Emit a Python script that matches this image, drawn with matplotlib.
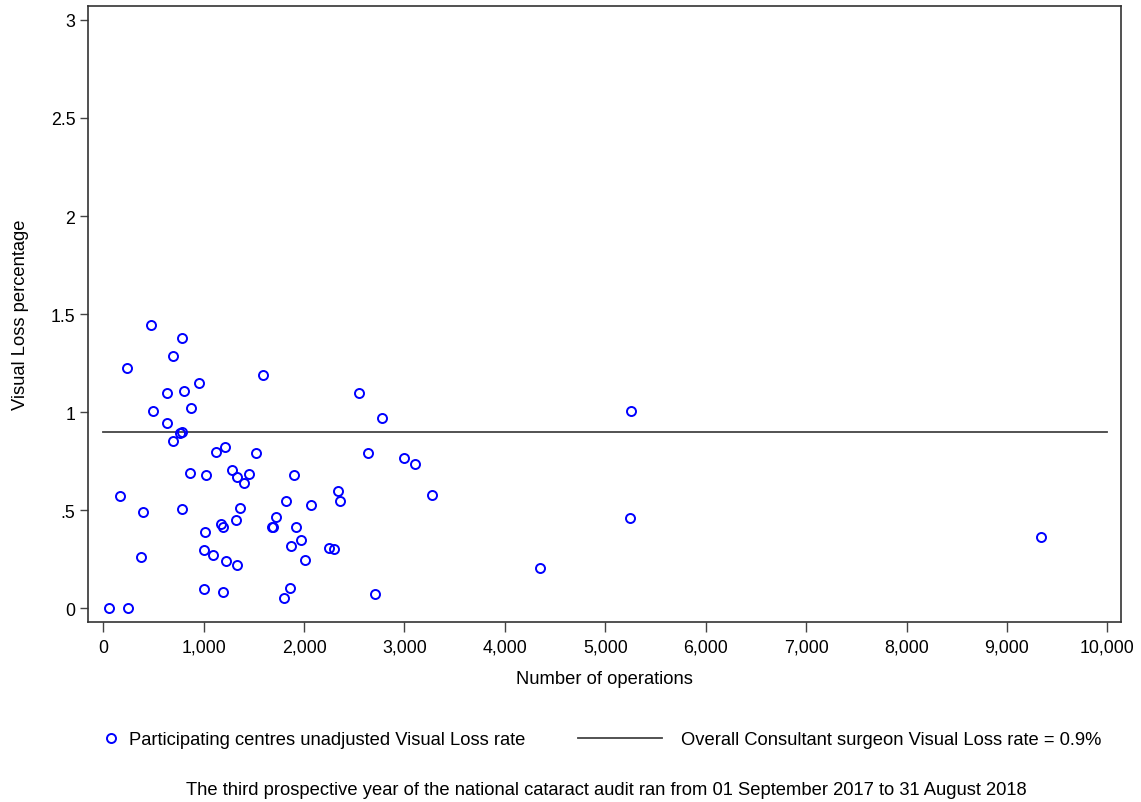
import numpy as np
import matplotlib
matplotlib.use("Agg")
import matplotlib.pyplot as plt
from matplotlib.lines import Line2D

plt.rcParams['font.family'] = ['Liberation Sans', 'DejaVu Sans']

# number of operations per centre
operations = [60, 243, 166, 236, 372, 398, 472, 492, 631, 631,
              697, 697, 768, 782, 787, 787, 807, 860, 870, 953,
              1000, 1000, 1016, 1026, 1093, 1119, 1172, 1192, 1192, 1212,
              1219, 1279, 1318, 1332, 1332, 1358, 1405, 1451, 1518, 1588,
              1677, 1693, 1717, 1800, 1823, 1857, 1866, 1903, 1922, 1972,
              2006, 2070, 2248, 2295, 2338, 2357, 2550, 2633, 2706, 2779,
              2992, 3104, 3271, 4347, 5243, 5253, 9337]
# unadjusted visual loss percentage
visual_loss = [0.0, 0.0, 0.573, 1.224, 0.260, 0.493, 1.446, 1.006, 1.096, 0.945,
               1.287, 0.855, 0.895, 0.897, 1.380, 0.506, 1.107, 0.690, 1.021, 1.149,
               0.299, 0.100, 0.388, 0.681, 0.273, 0.799, 0.428, 0.415, 0.082, 0.824,
               0.241, 0.704, 0.450, 0.671, 0.222, 0.510, 0.639, 0.686, 0.790, 1.191,
               0.416, 0.413, 0.464, 0.053, 0.549, 0.104, 0.318, 0.681, 0.415, 0.350,
               0.246, 0.526, 0.307, 0.302, 0.597, 0.547, 1.096, 0.793, 0.071, 0.969,
               0.765, 0.736, 0.578, 0.204, 0.459, 1.006, 0.365]

overall_rate = 0.9
line_x = [0, 10000]
x_ticks = list(range(0, 10001, 1000))
y_ticks = [0, 0.5, 1, 1.5, 2, 2.5, 3]
y_labels = ['0', '.5', '1', '1.5', '2', '2.5', '3']

fs = 13.2

fig = plt.figure(figsize=(11.41, 8.03), dpi=100)
ax = fig.add_axes([0.0771, 0.2242, 0.9054, 0.7671])

ax.plot(line_x, [overall_rate, overall_rate], color='#444444', lw=1.3, zorder=1)
ax.plot(operations, visual_loss, 'o', ms=6.5, mfc='none', mec='#0000ff', mew=1.4, zorder=2)

ax.set_xlim(-152, 10136)
ax.set_ylim(-0.070, 3.071)
ax.set_xticks(x_ticks)
ax.set_xticklabels([f'{t:,}' for t in x_ticks])
ax.set_yticks(y_ticks)
ax.set_yticklabels(y_labels)
ax.tick_params(labelsize=12.8, width=1, color='#444444', direction='out')
ax.tick_params(axis='x', length=7, pad=5)
ax.tick_params(axis='y', length=6, pad=3)
for s in ax.spines.values():
    s.set_color('#333333')
    s.set_linewidth(1.2)

ax.set_xlabel('Number of operations', fontsize=fs, va='center')
ax.xaxis.set_label_coords(0.5, -0.0925)
ax.set_ylabel('Visual Loss percentage', fontsize=fs, va='center')
ax.yaxis.set_label_coords(-0.0655, 0.5)

h1 = Line2D([], [], marker='o', ls='none', ms=6.5, mfc='none', mec='#0000ff', mew=1.4)
h2 = Line2D([], [], color='#444444', lw=1.3)
fig.legend([h1], ['Participating centres unadjusted Visual Loss rate'],
           loc='center left', bbox_to_anchor=(0.0903, 0.0775), frameon=False,
           fontsize=fs, handlelength=0.9, handletextpad=0.5, borderpad=0, borderaxespad=0)
fig.legend([h2], ['Overall Consultant surgeon Visual Loss rate = 0.9%'],
           loc='center left', bbox_to_anchor=(0.5066, 0.0775), frameon=False,
           fontsize=fs, handlelength=4.6, handletextpad=1.0, borderpad=0, borderaxespad=0)

fig.text(0.531, 0.0152, 'The third prospective year of the national cataract audit ran from 01 September 2017 to 31 August 2018',
         ha='center', va='center', fontsize=fs)

fig.savefig('out.png', dpi=100)
